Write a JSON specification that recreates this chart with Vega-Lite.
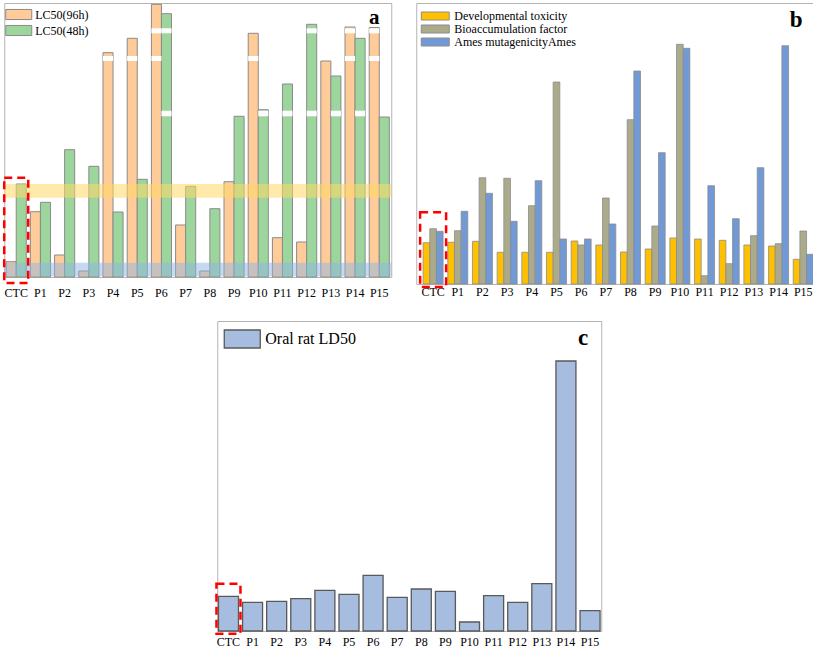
{
  "$schema": "https://vega.github.io/schema/vega-lite/v6.json",
  "padding": {"left": 2, "top": 2, "right": 0, "bottom": 0},
  "background": "white",
  "config": {
    "font": "Liberation Serif",
    "view": {"stroke": "#b4b4b4", "strokeWidth": 1},
    "axisY": {"disable": true}
  },
  "datasets": {
    "a": [
      {"cat": "CTC", "series": "LC50(96h)", "v": 15.3}, {"cat": "P1", "series": "LC50(96h)", "v": 65.3},
      {"cat": "P2", "series": "LC50(96h)", "v": 22}, {"cat": "P3", "series": "LC50(96h)", "v": 6},
      {"cat": "P4", "series": "LC50(96h)", "v": 224.3}, {"cat": "P5", "series": "LC50(96h)", "v": 238.7},
      {"cat": "P6", "series": "LC50(96h)", "v": 272.7}, {"cat": "P7", "series": "LC50(96h)", "v": 52},
      {"cat": "P8", "series": "LC50(96h)", "v": 6}, {"cat": "P9", "series": "LC50(96h)", "v": 95.3},
      {"cat": "P10", "series": "LC50(96h)", "v": 243.7}, {"cat": "P11", "series": "LC50(96h)", "v": 39.3},
      {"cat": "P12", "series": "LC50(96h)", "v": 35}, {"cat": "P13", "series": "LC50(96h)", "v": 216},
      {"cat": "P14", "series": "LC50(96h)", "v": 250}, {"cat": "P15", "series": "LC50(96h)", "v": 249.5},
      {"cat": "CTC", "series": "LC50(48h)", "v": 93}, {"cat": "P1", "series": "LC50(48h)", "v": 74.7},
      {"cat": "P2", "series": "LC50(48h)", "v": 127.3}, {"cat": "P3", "series": "LC50(48h)", "v": 110.7},
      {"cat": "P4", "series": "LC50(48h)", "v": 65}, {"cat": "P5", "series": "LC50(48h)", "v": 97.7},
      {"cat": "P6", "series": "LC50(48h)", "v": 263.3}, {"cat": "P7", "series": "LC50(48h)", "v": 90.7},
      {"cat": "P8", "series": "LC50(48h)", "v": 68.3}, {"cat": "P9", "series": "LC50(48h)", "v": 160.7},
      {"cat": "P10", "series": "LC50(48h)", "v": 167.3}, {"cat": "P11", "series": "LC50(48h)", "v": 193},
      {"cat": "P12", "series": "LC50(48h)", "v": 252.7}, {"cat": "P13", "series": "LC50(48h)", "v": 201},
      {"cat": "P14", "series": "LC50(48h)", "v": 238.7}, {"cat": "P15", "series": "LC50(48h)", "v": 160}
    ],
    "aGaps": [
      {"cat": "P4", "series": "LC50(96h)", "lo": 216, "hi": 221}, {"cat": "P5", "series": "LC50(96h)", "lo": 216, "hi": 221},
      {"cat": "P6", "series": "LC50(96h)", "lo": 216, "hi": 221}, {"cat": "P10", "series": "LC50(96h)", "lo": 216, "hi": 221},
      {"cat": "P14", "series": "LC50(96h)", "lo": 216, "hi": 221}, {"cat": "P15", "series": "LC50(96h)", "lo": 216, "hi": 221},
      {"cat": "P6", "series": "LC50(96h)", "lo": 243.7, "hi": 248.7}, {"cat": "P6", "series": "LC50(48h)", "lo": 243.7, "hi": 248.7},
      {"cat": "P12", "series": "LC50(48h)", "lo": 243.7, "hi": 248.7}, {"cat": "P14", "series": "LC50(96h)", "lo": 243.7, "hi": 248.7},
      {"cat": "P15", "series": "LC50(96h)", "lo": 243.7, "hi": 248.7},
      {"cat": "P6", "series": "LC50(48h)", "lo": 160.7, "hi": 166.3}, {"cat": "P10", "series": "LC50(48h)", "lo": 160.7, "hi": 166.3},
      {"cat": "P11", "series": "LC50(48h)", "lo": 160.7, "hi": 166.3}, {"cat": "P12", "series": "LC50(48h)", "lo": 160.7, "hi": 166.3},
      {"cat": "P13", "series": "LC50(48h)", "lo": 160.7, "hi": 166.3}, {"cat": "P14", "series": "LC50(48h)", "lo": 160.7, "hi": 166.3}
    ],
    "b": [
      {"cat": "CTC", "series": "Developmental toxicity", "v": 41.3}, {"cat": "P1", "series": "Developmental toxicity", "v": 41.7},
      {"cat": "P2", "series": "Developmental toxicity", "v": 42.7}, {"cat": "P3", "series": "Developmental toxicity", "v": 31.7},
      {"cat": "P4", "series": "Developmental toxicity", "v": 31.7}, {"cat": "P5", "series": "Developmental toxicity", "v": 31.7},
      {"cat": "P6", "series": "Developmental toxicity", "v": 43}, {"cat": "P7", "series": "Developmental toxicity", "v": 39},
      {"cat": "P8", "series": "Developmental toxicity", "v": 32}, {"cat": "P9", "series": "Developmental toxicity", "v": 35},
      {"cat": "P10", "series": "Developmental toxicity", "v": 46}, {"cat": "P11", "series": "Developmental toxicity", "v": 45},
      {"cat": "P12", "series": "Developmental toxicity", "v": 43.7}, {"cat": "P13", "series": "Developmental toxicity", "v": 39},
      {"cat": "P14", "series": "Developmental toxicity", "v": 38}, {"cat": "P15", "series": "Developmental toxicity", "v": 24.7},
      {"cat": "CTC", "series": "Bioaccumulation factor", "v": 55.3}, {"cat": "P1", "series": "Bioaccumulation factor", "v": 53.3},
      {"cat": "P2", "series": "Bioaccumulation factor", "v": 106.3}, {"cat": "P3", "series": "Bioaccumulation factor", "v": 105.7},
      {"cat": "P4", "series": "Bioaccumulation factor", "v": 78.3}, {"cat": "P5", "series": "Bioaccumulation factor", "v": 202},
      {"cat": "P6", "series": "Bioaccumulation factor", "v": 39}, {"cat": "P7", "series": "Bioaccumulation factor", "v": 86},
      {"cat": "P8", "series": "Bioaccumulation factor", "v": 164.3}, {"cat": "P9", "series": "Bioaccumulation factor", "v": 58},
      {"cat": "P10", "series": "Bioaccumulation factor", "v": 239.7}, {"cat": "P11", "series": "Bioaccumulation factor", "v": 8.3},
      {"cat": "P12", "series": "Bioaccumulation factor", "v": 20.3}, {"cat": "P13", "series": "Bioaccumulation factor", "v": 48.3},
      {"cat": "P14", "series": "Bioaccumulation factor", "v": 40.3}, {"cat": "P15", "series": "Bioaccumulation factor", "v": 53},
      {"cat": "CTC", "series": "Ames mutagenicityAmes", "v": 52.7}, {"cat": "P1", "series": "Ames mutagenicityAmes", "v": 72.7},
      {"cat": "P2", "series": "Ames mutagenicityAmes", "v": 90.7}, {"cat": "P3", "series": "Ames mutagenicityAmes", "v": 62.7},
      {"cat": "P4", "series": "Ames mutagenicityAmes", "v": 103.3}, {"cat": "P5", "series": "Ames mutagenicityAmes", "v": 45},
      {"cat": "P6", "series": "Ames mutagenicityAmes", "v": 45}, {"cat": "P7", "series": "Ames mutagenicityAmes", "v": 60},
      {"cat": "P8", "series": "Ames mutagenicityAmes", "v": 213}, {"cat": "P9", "series": "Ames mutagenicityAmes", "v": 131.3},
      {"cat": "P10", "series": "Ames mutagenicityAmes", "v": 235.7}, {"cat": "P11", "series": "Ames mutagenicityAmes", "v": 98.3},
      {"cat": "P12", "series": "Ames mutagenicityAmes", "v": 65.3}, {"cat": "P13", "series": "Ames mutagenicityAmes", "v": 116.3},
      {"cat": "P14", "series": "Ames mutagenicityAmes", "v": 238.3}, {"cat": "P15", "series": "Ames mutagenicityAmes", "v": 29.7}
    ],
    "c": [
      {"cat": "CTC", "series": "Oral rat LD50", "v": 34.7}, {"cat": "P1", "series": "Oral rat LD50", "v": 28.7},
      {"cat": "P2", "series": "Oral rat LD50", "v": 29.7}, {"cat": "P3", "series": "Oral rat LD50", "v": 32.3},
      {"cat": "P4", "series": "Oral rat LD50", "v": 40.7}, {"cat": "P5", "series": "Oral rat LD50", "v": 36.7},
      {"cat": "P6", "series": "Oral rat LD50", "v": 55.7}, {"cat": "P7", "series": "Oral rat LD50", "v": 33.7},
      {"cat": "P8", "series": "Oral rat LD50", "v": 42}, {"cat": "P9", "series": "Oral rat LD50", "v": 39.7},
      {"cat": "P10", "series": "Oral rat LD50", "v": 9}, {"cat": "P11", "series": "Oral rat LD50", "v": 35.3},
      {"cat": "P12", "series": "Oral rat LD50", "v": 28.7}, {"cat": "P13", "series": "Oral rat LD50", "v": 47.3},
      {"cat": "P14", "series": "Oral rat LD50", "v": 270}, {"cat": "P15", "series": "Oral rat LD50", "v": 20.3}
    ]
  },
  "vconcat": [
    {
      "hconcat": [
        {
          "width": 387,
          "height": 274,
          "layer": [
            {
              "data": {"name": "a"},
              "mark": {"type": "bar", "stroke": "#8a8a8a", "strokeWidth": 1},
              "encoding": {
                "x": {"field": "cat", "type": "nominal", "title": null,
                  "scale": {"domain": ["CTC","P1","P2","P3","P4","P5","P6","P7","P8","P9","P10","P11","P12","P13","P14","P15"], "paddingInner": 0.17, "paddingOuter": 0.08},
                  "axis": {"domain": false, "ticks": false, "labelAngle": 0, "labelFontSize": 12, "labelColor": "black", "labelFont": "Liberation Serif", "labelPadding": 10}},
                "xOffset": {"field": "series", "type": "nominal", "scale": {"domain": ["LC50(96h)", "LC50(48h)"], "paddingInner": 0, "paddingOuter": 0}},
                "y": {"field": "v", "type": "quantitative", "title": null, "scale": {"domain": [0, 274], "nice": false}},
                "color": {"field": "series", "type": "nominal",
                  "scale": {"domain": ["LC50(96h)", "LC50(48h)"], "range": ["#FFCC99", "#9DD69D"]},
                  "legend": {"title": null, "orient": "top-left", "offset": 5, "padding": 0,
                    "symbolType": "M-1.67,-0.84H2.67V0.84H-1.67Z", "symbolSize": 144,
                    "symbolStrokeColor": "#8a8a8a", "symbolStrokeWidth": 1, "symbolOpacity": 1,
                    "labelFontSize": 12, "labelFont": "Liberation Serif", "labelColor": "black",
                    "labelOffset": 13, "rowPadding": 1}}
              }
            },
            {
              "data": {"name": "aGaps"},
              "mark": {"type": "rect", "fill": "white"},
              "encoding": {
                "x": {"field": "cat", "type": "nominal", "title": null,
                  "scale": {"domain": ["CTC","P1","P2","P3","P4","P5","P6","P7","P8","P9","P10","P11","P12","P13","P14","P15"], "paddingInner": 0.17, "paddingOuter": 0.08},
                  "axis": {"domain": false, "ticks": false, "labelAngle": 0, "labelFontSize": 12, "labelColor": "black", "labelFont": "Liberation Serif", "labelPadding": 10}},
                "xOffset": {"field": "series", "type": "nominal", "scale": {"domain": ["LC50(96h)", "LC50(48h)"], "paddingInner": 0, "paddingOuter": 0}},
                "y": {"field": "lo", "type": "quantitative", "title": null, "scale": {"domain": [0, 274], "nice": false}},
                "y2": {"field": "hi"}
              }
            },
            {
              "data": {"values": [{}]},
              "mark": {"type": "rect", "fill": "#FFD966", "fillOpacity": 0.55},
              "encoding": {
                "y": {"datum": 79.3, "type": "quantitative", "title": null, "scale": {"domain": [0, 274], "nice": false}},
                "y2": {"datum": 93}
              }
            },
            {
              "data": {"values": [{}]},
              "mark": {"type": "rect", "fill": "#8EB4E3", "fillOpacity": 0.5},
              "encoding": {
                "y": {"datum": 0.7, "type": "quantitative", "title": null, "scale": {"domain": [0, 274], "nice": false}},
                "y2": {"datum": 14.3}
              }
            },
            {
              "data": {"values": [{}]},
              "mark": {"type": "rect", "fill": null, "stroke": "#FF0000", "strokeWidth": 2.5, "strokeDash": [8, 5], "width": 24},
              "encoding": {
                "x": {"datum": "CTC", "type": "nominal", "title": null,
                  "scale": {"domain": ["CTC","P1","P2","P3","P4","P5","P6","P7","P8","P9","P10","P11","P12","P13","P14","P15"], "paddingInner": 0.17, "paddingOuter": 0.08},
                  "axis": {"domain": false, "ticks": false, "labelAngle": 0, "labelFontSize": 12, "labelColor": "black", "labelFont": "Liberation Serif", "labelPadding": 10}},
                "y": {"datum": 99.3, "type": "quantitative", "title": null, "scale": {"domain": [0, 274], "nice": false}},
                "y2": {"datum": -6}
              }
            },
            {
              "data": {"values": [{}]},
              "mark": {"type": "text", "text": "a", "font": "Liberation Serif", "fontSize": 21, "fontWeight": "bold", "color": "black", "dx": -5, "baseline": "middle"},
              "encoding": {
                "x": {"datum": "P15", "type": "nominal", "title": null,
                  "scale": {"domain": ["CTC","P1","P2","P3","P4","P5","P6","P7","P8","P9","P10","P11","P12","P13","P14","P15"], "paddingInner": 0.17, "paddingOuter": 0.08},
                  "axis": {"domain": false, "ticks": false, "labelAngle": 0, "labelFontSize": 12, "labelColor": "black", "labelFont": "Liberation Serif", "labelPadding": 10}},
                "y": {"datum": 259, "type": "quantitative", "title": null, "scale": {"domain": [0, 274], "nice": false}}
              }
            }
          ]
        },
        {
          "width": 398,
          "height": 281,
          "layer": [
            {
              "data": {"name": "b"},
              "mark": {"type": "bar", "stroke": "#8c8c8c", "strokeWidth": 0.8},
              "encoding": {
                "x": {"field": "cat", "type": "nominal", "title": null,
                  "scale": {"domain": ["CTC","P1","P2","P3","P4","P5","P6","P7","P8","P9","P10","P11","P12","P13","P14","P15"], "paddingInner": 0.19, "paddingOuter": 0.16, "align": 0.87},
                  "axis": {"domain": false, "ticks": false, "labelAngle": 0, "labelFontSize": 12, "labelColor": "black", "labelFont": "Liberation Serif", "labelPadding": 2}},
                "xOffset": {"field": "series", "type": "nominal", "scale": {"domain": ["Developmental toxicity", "Bioaccumulation factor", "Ames mutagenicityAmes"], "paddingInner": 0, "paddingOuter": 0}},
                "y": {"field": "v", "type": "quantitative", "title": null, "scale": {"domain": [0, 281], "nice": false}},
                "color": {"field": "series", "type": "nominal",
                  "scale": {"domain": ["Developmental toxicity", "Bioaccumulation factor", "Ames mutagenicityAmes"], "range": ["#FFC000", "#ABAB8C", "#7099D6"]},
                  "legend": {"title": null, "orient": "top-left", "offset": 7, "padding": 0,
                    "symbolType": "M-1.6,-0.8H4.0V0.8H-1.6Z", "symbolSize": 100,
                    "symbolStrokeColor": "#8c8c8c", "symbolStrokeWidth": 1, "symbolOpacity": 1,
                    "labelFontSize": 12, "labelFont": "Liberation Serif", "labelColor": "black",
                    "labelOffset": 19, "rowPadding": 1}}
              }
            },
            {
              "data": {"values": [{}]},
              "mark": {"type": "rect", "fill": null, "stroke": "#FF0000", "strokeWidth": 2.5, "strokeDash": [8, 5], "width": 26},
              "encoding": {
                "x": {"datum": "CTC", "type": "nominal", "title": null,
                  "scale": {"domain": ["CTC","P1","P2","P3","P4","P5","P6","P7","P8","P9","P10","P11","P12","P13","P14","P15"], "paddingInner": 0.19, "paddingOuter": 0.16, "align": 0.87},
                  "axis": {"domain": false, "ticks": false, "labelAngle": 0, "labelFontSize": 12, "labelColor": "black", "labelFont": "Liberation Serif", "labelPadding": 2}},
                "y": {"datum": 71.7, "type": "quantitative", "title": null, "scale": {"domain": [0, 281], "nice": false}},
                "y2": {"datum": -3}
              }
            },
            {
              "data": {"values": [{}]},
              "mark": {"type": "text", "text": "b", "font": "Liberation Serif", "fontSize": 23, "fontWeight": "bold", "color": "black", "dx": -7, "baseline": "middle"},
              "encoding": {
                "x": {"datum": "P15", "type": "nominal", "title": null,
                  "scale": {"domain": ["CTC","P1","P2","P3","P4","P5","P6","P7","P8","P9","P10","P11","P12","P13","P14","P15"], "paddingInner": 0.19, "paddingOuter": 0.16, "align": 0.87},
                  "axis": {"domain": false, "ticks": false, "labelAngle": 0, "labelFontSize": 12, "labelColor": "black", "labelFont": "Liberation Serif", "labelPadding": 2}},
                "y": {"datum": 264, "type": "quantitative", "title": null, "scale": {"domain": [0, 281], "nice": false}}
              }
            }
          ]
        }
      ],
      "spacing": 23,
      "resolve": {
        "scale": {"color": "independent", "xOffset": "independent", "x": "independent", "y": "independent"},
        "legend": {"color": "independent"},
        "axis": {"x": "independent", "y": "independent"}
      }
    },
    {
      "width": 384,
      "height": 310,
      "layer": [
        {
          "data": {"name": "c"},
          "mark": {"type": "bar", "stroke": "#595959", "strokeWidth": 1.3},
          "encoding": {
            "x": {"field": "cat", "type": "nominal", "title": null,
              "scale": {"domain": ["CTC","P1","P2","P3","P4","P5","P6","P7","P8","P9","P10","P11","P12","P13","P14","P15"], "paddingInner": 0.17, "paddingOuter": 0.05},
              "axis": {"domain": false, "ticks": false, "labelAngle": 0, "labelFontSize": 12, "labelColor": "black", "labelFont": "Liberation Serif", "labelPadding": 5}},
            "y": {"field": "v", "type": "quantitative", "title": null, "scale": {"domain": [0, 310], "nice": false}},
            "color": {"field": "series", "type": "nominal",
              "scale": {"domain": ["Oral rat LD50"], "range": ["#A6BDDF"]},
              "legend": {"title": null, "orient": "top-left", "offset": 8, "padding": 0,
                "symbolType": "M-1.22,-1H2.78V1H-1.22Z", "symbolSize": 324,
                "symbolStrokeColor": "#595959", "symbolStrokeWidth": 1.3, "symbolOpacity": 1,
                "labelFontSize": 16, "labelFont": "Liberation Serif", "labelColor": "black",
                "labelOffset": 20}}
          }
        },
        {
          "data": {"values": [{}]},
          "mark": {"type": "rect", "fill": null, "stroke": "#FF0000", "strokeWidth": 2.5, "strokeDash": [8, 5], "width": 24},
          "encoding": {
            "x": {"datum": "CTC", "type": "nominal", "title": null,
              "scale": {"domain": ["CTC","P1","P2","P3","P4","P5","P6","P7","P8","P9","P10","P11","P12","P13","P14","P15"], "paddingInner": 0.17, "paddingOuter": 0.05},
              "axis": {"domain": false, "ticks": false, "labelAngle": 0, "labelFontSize": 12, "labelColor": "black", "labelFont": "Liberation Serif", "labelPadding": 5}},
            "y": {"datum": 47.3, "type": "quantitative", "title": null, "scale": {"domain": [0, 310], "nice": false}},
            "y2": {"datum": -2.7}
          }
        },
        {
          "data": {"values": [{}]},
          "mark": {"type": "text", "text": "c", "font": "Liberation Serif", "fontSize": 23, "fontWeight": "bold", "color": "black", "dx": -7, "baseline": "middle"},
          "encoding": {
            "x": {"datum": "P15", "type": "nominal", "title": null,
              "scale": {"domain": ["CTC","P1","P2","P3","P4","P5","P6","P7","P8","P9","P10","P11","P12","P13","P14","P15"], "paddingInner": 0.17, "paddingOuter": 0.05},
              "axis": {"domain": false, "ticks": false, "labelAngle": 0, "labelFontSize": 12, "labelColor": "black", "labelFont": "Liberation Serif", "labelPadding": 5}},
            "y": {"datum": 293, "type": "quantitative", "title": null, "scale": {"domain": [0, 310], "nice": false}}
          }
        }
      ]
    }
  ],
  "spacing": 21,
  "center": true,
  "resolve": {
    "scale": {"color": "independent", "xOffset": "independent", "x": "independent", "y": "independent"},
    "legend": {"color": "independent"},
    "axis": {"x": "independent", "y": "independent"}
  }
}
